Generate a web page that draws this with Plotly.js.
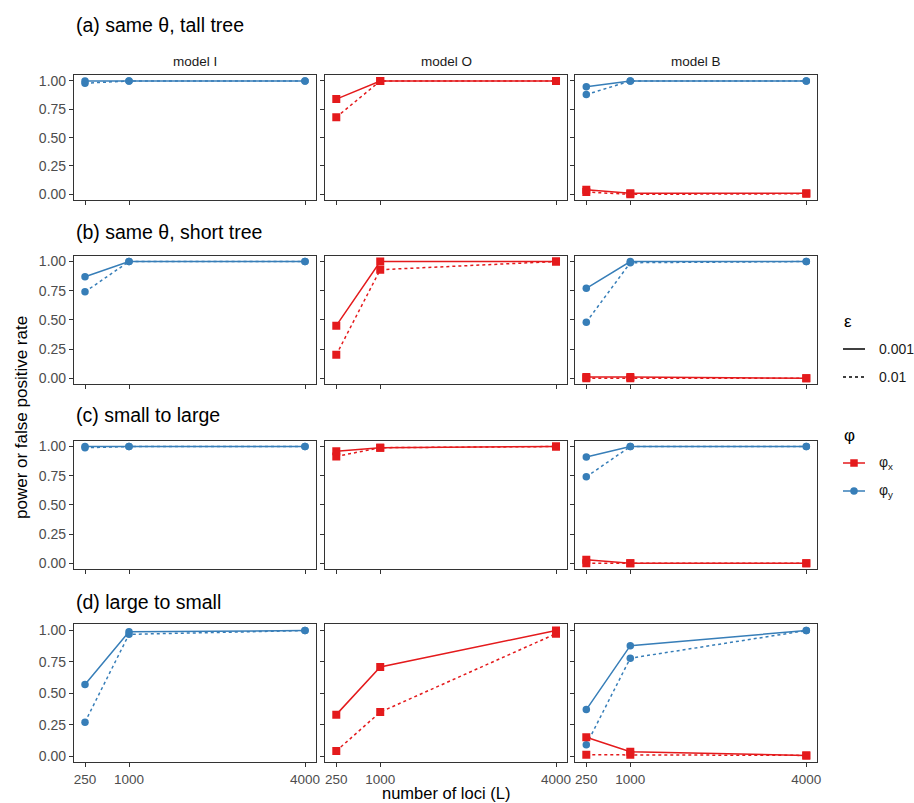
<!DOCTYPE html>
<html>
<head>
<meta charset="utf-8">
<script src="https://cdn.plot.ly/plotly-3.0.1.min.js"></script>
<style>html,body{margin:0;padding:0;background:#fff}#chart{width:914px;height:803px}</style>
</head>
<body>
<div id="chart"></div>
<script>
// ---------------- data ----------------
const loci = [250, 1000, 4000];
const lociLabels = ["250", "1000", "4000"];
const yTicks = [0, 0.25, 0.5, 0.75, 1];
const yTickLabels = ["0.00", "0.25", "0.50", "0.75", "1.00"];
const scenarios = ["(a) same \u03b8, tall tree", "(b) same \u03b8, short tree", "(c) small to large", "(d) large to small"];
const models = ["model I", "model O", "model B"];
const epsLevels = ["0.001", "0.01"];
const phiLevels = ["\u03c6<sub>x</sub>", "\u03c6<sub>y</sub>"];

// (a) same theta, tall tree
const a_I_y_001 = [1.00, 1.00, 1.00];
const a_I_y_01  = [0.98, 1.00, 1.00];
const a_O_x_001 = [0.84, 1.00, 1.00];
const a_O_x_01  = [0.68, 1.00, 1.00];
const a_B_y_001 = [0.95, 1.00, 1.00];
const a_B_y_01  = [0.88, 1.00, 1.00];
const a_B_x_001 = [0.04, 0.01, 0.01];
const a_B_x_01  = [0.02, 0.00, 0.005];
// (b) same theta, short tree
const b_I_y_001 = [0.87, 1.00, 1.00];
const b_I_y_01  = [0.74, 1.00, 1.00];
const b_O_x_001 = [0.45, 1.00, 1.00];
const b_O_x_01  = [0.20, 0.93, 1.00];
const b_B_y_001 = [0.77, 1.00, 1.00];
const b_B_y_01  = [0.48, 0.99, 1.00];
const b_B_x_001 = [0.01, 0.01, 0.00];
const b_B_x_01  = [0.00, 0.00, 0.00];
// (c) small to large
const c_I_y_001 = [1.00, 1.00, 1.00];
const c_I_y_01  = [0.99, 1.00, 1.00];
const c_O_x_001 = [0.96, 0.99, 1.00];
const c_O_x_01  = [0.915, 0.99, 1.00];
const c_B_y_001 = [0.91, 1.00, 1.00];
const c_B_y_01  = [0.74, 1.00, 1.00];
const c_B_x_001 = [0.03, 0.00, 0.00];
const c_B_x_01  = [0.00, 0.00, 0.00];
// (d) large to small
const d_I_y_001 = [0.57, 0.99, 1.00];
const d_I_y_01  = [0.27, 0.97, 1.00];
const d_O_x_001 = [0.33, 0.71, 1.00];
const d_O_x_01  = [0.04, 0.35, 0.975];
const d_B_y_001 = [0.37, 0.88, 1.00];
const d_B_y_01  = [0.09, 0.78, 1.00];
const d_B_x_001 = [0.15, 0.035, 0.005];
const d_B_x_01  = [0.01, 0.01, 0.005];

// series table: [row, col, phi (0=x,1=y), eps (0=0.001,1=0.01), values]
const series = [
  [0,0,1,1,a_I_y_01],[0,0,1,0,a_I_y_001],
  [0,1,0,1,a_O_x_01],[0,1,0,0,a_O_x_001],
  [0,2,1,1,a_B_y_01],[0,2,1,0,a_B_y_001],[0,2,0,1,a_B_x_01],[0,2,0,0,a_B_x_001],
  [1,0,1,1,b_I_y_01],[1,0,1,0,b_I_y_001],
  [1,1,0,1,b_O_x_01],[1,1,0,0,b_O_x_001],
  [1,2,1,1,b_B_y_01],[1,2,1,0,b_B_y_001],[1,2,0,1,b_B_x_01],[1,2,0,0,b_B_x_001],
  [2,0,1,1,c_I_y_01],[2,0,1,0,c_I_y_001],
  [2,1,0,1,c_O_x_01],[2,1,0,0,c_O_x_001],
  [2,2,1,1,c_B_y_01],[2,2,1,0,c_B_y_001],[2,2,0,1,c_B_x_01],[2,2,0,0,c_B_x_001],
  [3,0,1,1,d_I_y_01],[3,0,1,0,d_I_y_001],
  [3,1,0,1,d_O_x_01],[3,1,0,0,d_O_x_001],
  [3,2,1,1,d_B_y_01],[3,2,1,0,d_B_y_001],[3,2,0,1,d_B_x_01],[3,2,0,0,d_B_x_001]
];

// ---------------- styling / layout ----------------
const W = 914, H = 803;
const FONT = "Liberation Sans, Arial, Helvetica, sans-serif";
const phiColors = ["#E41A1C", "#377EB8"];
const phiSymbols = ["square", "circle"];
const epsDash = ["solid", "3px,3px"];
const colPx = [[74, 316], [325.3, 567], [575.3, 817.3]];
const rowPx = [[75.3, 200], [255.7, 384], [440.7, 569], [624.3, 762.3]];
const px = x => x / W;
const py = y => 1 - y / H;

const traces = series.map(s => {
  const [r, c, phi, eps, vals] = s;
  const idx = r * 3 + c + 1;
  const sfx = idx === 1 ? "" : String(idx);
  return {
    type: "scatter", mode: "lines+markers",
    x: loci, y: vals, xaxis: "x" + sfx, yaxis: "y" + sfx,
    line: {color: phiColors[phi], width: 1.5, dash: epsDash[eps]},
    marker: {color: phiColors[phi], symbol: phiSymbols[phi], size: phi === 0 ? 8 : 7.5},
    showlegend: false, hoverinfo: "skip"
  };
});

const layout = {
  width: W, height: H,
  margin: {l: 0, r: 0, t: 0, b: 0},
  paper_bgcolor: "#fff", plot_bgcolor: "#fff",
  showlegend: false,
  font: {family: FONT, color: "#1a1a1a"},
  annotations: [], shapes: []
};

const xr = [loci[0] - 0.05 * (loci[2] - loci[0]), loci[2] + 0.05 * (loci[2] - loci[0])];
for (let r = 0; r < 4; r++) {
  for (let c = 0; c < 3; c++) {
    const idx = r * 3 + c + 1;
    const sfx = idx === 1 ? "" : String(idx);
    layout["xaxis" + sfx] = {
      domain: [px(colPx[c][0]), px(colPx[c][1])],
      anchor: "y" + sfx, range: xr, type: "linear",
      tickmode: "array", tickvals: loci, ticktext: lociLabels,
      showticklabels: r === 3, ticks: "outside", ticklen: 4, tickwidth: 1, tickcolor: "#333333",
      tickfont: {family: FONT, size: 13.5, color: "#4D4D4D"},
      showgrid: false, zeroline: false, showline: true, mirror: true,
      linecolor: "#333333", linewidth: 1.1, fixedrange: true
    };
    layout["yaxis" + sfx] = {
      domain: [py(rowPx[r][1]), py(rowPx[r][0])],
      anchor: "x" + sfx, range: [-0.05, 1.05],
      tickmode: "array", tickvals: yTicks, ticktext: yTickLabels,
      showticklabels: c === 0, ticks: "outside", ticklen: 4, tickwidth: 1, tickcolor: "#333333",
      tickfont: {family: FONT, size: 14, color: "#4D4D4D"},
      showgrid: false, zeroline: false, showline: true, mirror: true,
      linecolor: "#333333", linewidth: 1.1, fixedrange: true
    };
  }
}

// row titles
const rowTitleY = [25, 232, 415.5, 602];
scenarios.forEach((t, r) => layout.annotations.push({
  text: t, xref: "paper", yref: "paper", x: px(74), y: py(rowTitleY[r]),
  xanchor: "left", yanchor: "middle", showarrow: false,
  font: {family: FONT, size: 19.5, color: "#000"}
}));
// strip labels
models.forEach((m, c) => layout.annotations.push({
  text: m, xref: "paper", yref: "paper", x: px((colPx[c][0] + colPx[c][1]) / 2), y: py(62),
  xanchor: "center", yanchor: "middle", showarrow: false,
  font: {family: FONT, size: 13.5, color: "#1A1A1A"}
}));
// axis titles
layout.annotations.push({
  text: "number of loci (L)", xref: "paper", yref: "paper", x: px(445.5), y: py(793),
  xanchor: "center", yanchor: "middle", showarrow: false,
  font: {family: FONT, size: 16.5, color: "#000"}
});
layout.annotations.push({
  text: "power or false positive rate", xref: "paper", yref: "paper", x: px(21), y: py(418),
  xanchor: "center", yanchor: "middle", showarrow: false, textangle: -90,
  font: {family: FONT, size: 17, color: "#000"}
});

// legend
const LX0 = 843, LX1 = 865, LTX = 877;
layout.annotations.push({text: "\u03b5", xref: "paper", yref: "paper", x: px(LX0 - 1), y: py(321),
  xanchor: "left", yanchor: "middle", showarrow: false, font: {family: FONT, size: 17, color: "#000"}});
layout.annotations.push({text: "\u03c6", xref: "paper", yref: "paper", x: px(LX0 - 1), y: py(436),
  xanchor: "left", yanchor: "middle", showarrow: false, font: {family: FONT, size: 17, color: "#000"}});
const epsY = [349, 377];
epsLevels.forEach((e, i) => {
  layout.shapes.push({type: "line", xref: "paper", yref: "paper",
    x0: px(LX0), x1: px(LX1), y0: py(epsY[i]), y1: py(epsY[i]),
    line: {color: "#000", width: 1.5, dash: epsDash[i]}});
  layout.annotations.push({text: e, xref: "paper", yref: "paper", x: px(LTX), y: py(epsY[i]),
    xanchor: "left", yanchor: "middle", showarrow: false, font: {family: FONT, size: 14, color: "#1a1a1a"}});
});
const phiY = [463, 491];
phiLevels.forEach((p, i) => {
  const cy = phiY[i], cx = (LX0 + LX1) / 2, hs = 3.75;
  layout.shapes.push({type: "line", xref: "paper", yref: "paper",
    x0: px(LX0), x1: px(LX1), y0: py(cy), y1: py(cy),
    line: {color: phiColors[i], width: 1.5}});
  layout.shapes.push({type: i === 0 ? "rect" : "circle", xref: "paper", yref: "paper",
    x0: px(cx - hs), x1: px(cx + hs), y0: py(cy - hs), y1: py(cy + hs),
    fillcolor: phiColors[i], line: {width: 0}});
  layout.annotations.push({text: p, xref: "paper", yref: "paper", x: px(LTX), y: py(cy),
    xanchor: "left", yanchor: "middle", showarrow: false, font: {family: FONT, size: 14, color: "#1a1a1a"}});
});

Plotly.newPlot("chart", traces, layout, {staticPlot: true, displayModeBar: false});
</script>
</body>
</html>
